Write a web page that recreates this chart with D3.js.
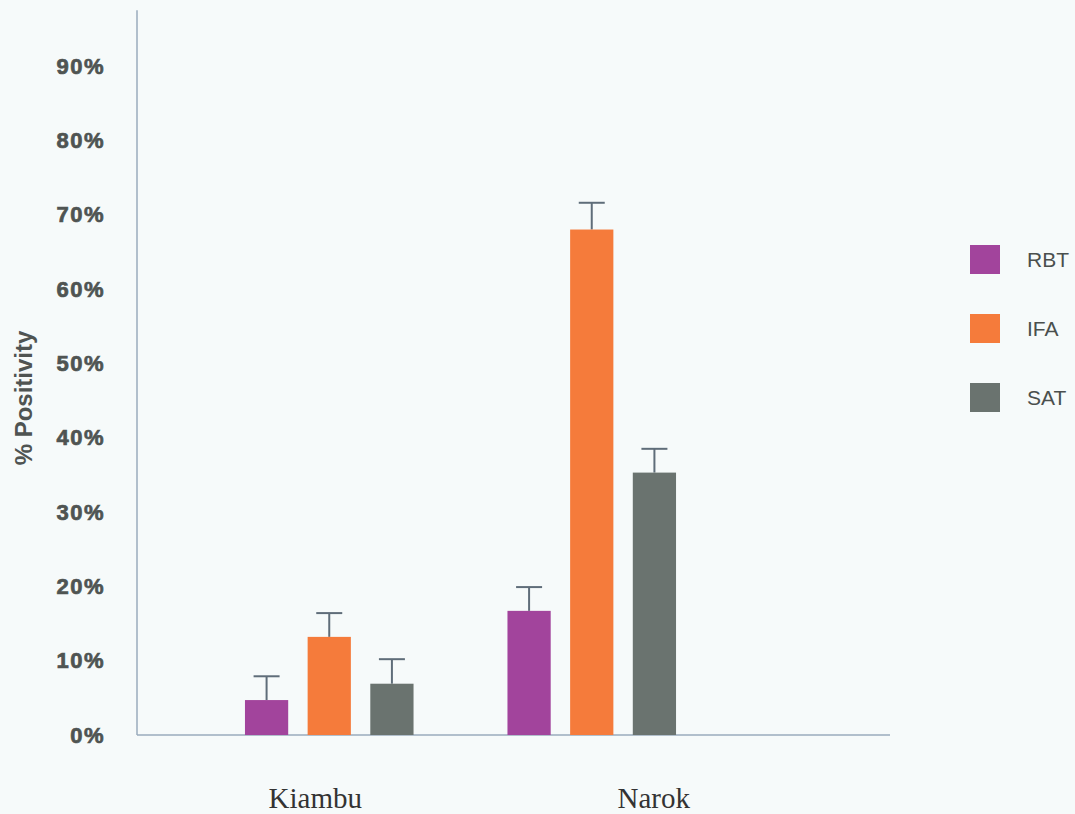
<!DOCTYPE html>
<html>
<head>
<meta charset="utf-8">
<title>% Positivity</title>
<script src="https://d3js.org/d3.v7.min.js"></script>
<style>
  body { margin: 0; background: #f6fafa; }
</style>
</head>
<body>
<script>
// data
const regions = ["Kiambu", "Narok"];
const tests = ["RBT", "IFA", "SAT"];
const rbt = [4.7, 16.7];
const ifa = [13.2, 68.0];
const sat = [6.9, 35.3];
const rbtErr = [3.2, 3.2];
const ifaErr = [3.2, 3.6];
const satErr = [3.3, 3.2];
const yTicks = [0, 10, 20, 30, 40, 50, 60, 70, 80, 90];
const colors = ["#a2449c", "#f57b3b", "#6a736f"];
// region labels sit a little off the group centres in the original
const labelShift = [-14, 62];

const values = [rbt, ifa, sat];
const errs = [rbtErr, ifaErr, satErr];
const data = [];
regions.forEach((r, i) => {
  tests.forEach((t, j) => {
    data.push({ region: r, test: t, value: values[j][i], err: errs[j][i] });
  });
});

const width = 1075, height = 814;
const svg = d3.select("body").append("svg")
  .attr("width", width)
  .attr("height", height);

const axisX = 137;
const y = d3.scaleLinear().domain([0, 90]).range([735, 66]);

const x0 = d3.scaleBand().domain(regions).range([198, 723]);
const x1 = d3.scaleBand().domain(tests).range([-94, 94])
  .paddingInner(0.31).paddingOuter(0.155);
const color = d3.scaleOrdinal().domain(tests).range(colors);

// axis lines
svg.append("line")
  .attr("x1", axisX).attr("x2", axisX)
  .attr("y1", y(97.5)).attr("y2", y(0))
  .attr("stroke", "#9aabbd").attr("stroke-width", 1.5);
svg.append("line")
  .attr("x1", axisX).attr("x2", 890)
  .attr("y1", y(0)).attr("y2", y(0))
  .attr("stroke", "#9aabbd").attr("stroke-width", 1.5);

// y tick labels
const yAxis = svg.append("g")
  .attr("transform", `translate(${axisX},0)`)
  .call(d3.axisLeft(y).tickValues(yTicks).tickSize(0).tickPadding(32)
    .tickFormat(d => d + "%"));
yAxis.select(".domain").remove();
yAxis.selectAll("text")
  .attr("font-family", "Liberation Sans, Arial, sans-serif")
  .attr("font-size", 22)
  .attr("font-weight", "bold")
  .attr("letter-spacing", 1.5)
  .attr("fill", "#4f5452")
  .attr("stroke", "#4f5452")
  .attr("stroke-width", 0.7);

// y title
svg.append("text")
  .attr("transform", "translate(32,398) rotate(-90)")
  .attr("text-anchor", "middle")
  .attr("font-family", "Liberation Sans, Arial, sans-serif")
  .attr("font-size", 24)
  .attr("font-weight", "bold")
  .attr("fill", "#4f5452")
  .text("% Positivity");

// bars
const bars = svg.selectAll("g.bar")
  .data(data)
  .enter().append("g")
  .attr("class", "bar")
  .attr("transform", d => `translate(${x0(d.region) + x0.bandwidth() / 2 + x1(d.test)},0)`);

// error bars (upper only)
bars.append("line")
  .attr("x1", x1.bandwidth() / 2).attr("x2", x1.bandwidth() / 2)
  .attr("y1", d => y(d.value)).attr("y2", d => y(d.value + d.err))
  .attr("stroke", "#5f6d79").attr("stroke-width", 2);
bars.append("line")
  .attr("x1", x1.bandwidth() / 2 - 13).attr("x2", x1.bandwidth() / 2 + 13)
  .attr("y1", d => y(d.value + d.err)).attr("y2", d => y(d.value + d.err))
  .attr("stroke", "#5f6d79").attr("stroke-width", 2);

bars.append("rect")
  .attr("x", 0)
  .attr("y", d => y(d.value))
  .attr("width", x1.bandwidth())
  .attr("height", d => y(0) - y(d.value))
  .attr("fill", d => color(d.test));

// region labels
svg.selectAll("text.region")
  .data(regions)
  .enter().append("text")
  .attr("class", "region")
  .attr("x", (d, i) => x0(d) + x0.bandwidth() / 2 + labelShift[i])
  .attr("y", 808)
  .attr("text-anchor", "middle")
  .attr("font-family", "Liberation Serif, Times New Roman, serif")
  .attr("font-size", 29)
  .attr("fill", "#333")
  .text(d => d);

// legend
const legend = svg.selectAll("g.legend")
  .data(tests)
  .enter().append("g")
  .attr("class", "legend")
  .attr("transform", (d, i) => `translate(970,${245 + i * 69})`);
legend.append("rect")
  .attr("width", 30).attr("height", 29)
  .attr("fill", d => color(d));
legend.append("text")
  .attr("x", 57).attr("y", 22)
  .attr("font-family", "Liberation Sans, Arial, sans-serif")
  .attr("font-size", 21)
  .attr("fill", "#4a4f4d")
  .text(d => d);
</script>
</body>
</html>
